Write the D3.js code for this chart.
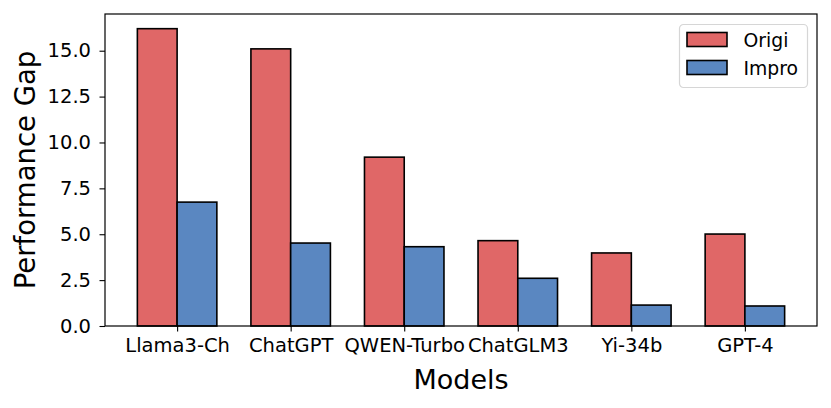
<!DOCTYPE html>
<html>
<head>
<meta charset="utf-8">
<script src="https://cdn.jsdelivr.net/npm/d3@7"></script>
<style>
  body { margin: 0; background: #fff; }
  text { font-family: "DejaVu Sans", sans-serif; fill: #000; }
</style>
</head>
<body>
<div id="chart"></div>
<script>
var svgWidth = 831;
var svgHeight = 408;

var margin = { top: 14, right: 14, bottom: 82, left: 105 };
var width = svgWidth - margin.left - margin.right;
var height = svgHeight - margin.top - margin.bottom;

// data
var models = ["Llama3-Ch", "ChatGPT", "QWEN-Turbo", "ChatGLM3", "Yi-34b", "GPT-4"];
var origi = [16.2, 15.1, 9.2, 4.65, 3.98, 5.01];
var impro = [6.75, 4.52, 4.32, 2.6, 1.14, 1.09];
var yTicks = [0, 2.5, 5, 7.5, 10, 12.5, 15];
var seriesNames = ["Origi", "Impro"];
var seriesColors = ["#e06767", "#5a87c1"];

var barWidth = 0.35;

var svg = d3.select("#chart")
  .append("svg")
  .attr("width", svgWidth)
  .attr("height", svgHeight);

var chartGroup = svg.append("g")
  .attr("transform", `translate(${margin.left}, ${margin.top})`);

// x is a linear index scale, like matplotlib's default bar layout
var xScale = d3.scaleLinear()
  .domain([-0.635, models.length - 1 + 0.635])
  .range([0, width]);

var yScale = d3.scaleLinear()
  .domain([0, 17.0])
  .range([height, 0]);

// bars
[origi, impro].forEach(function(vals, s) {
  chartGroup.append("g")
    .selectAll("rect")
    .data(vals)
    .enter()
    .append("rect")
    .attr("x", (d, i) => xScale(i + (s === 0 ? -barWidth : 0)))
    .attr("y", d => yScale(d))
    .attr("width", xScale(barWidth) - xScale(0))
    .attr("height", d => yScale(0) - yScale(d))
    .attr("fill", seriesColors[s])
    .attr("stroke", "#000")
    .attr("stroke-width", 1.6);
});

// axes
var bottomAxis = d3.axisBottom(xScale)
  .tickValues(d3.range(models.length))
  .tickFormat(i => models[i])
  .tickSize(5.5)
  .tickPadding(7);

var leftAxis = d3.axisLeft(yScale)
  .tickValues(yTicks)
  .tickFormat(d3.format(".1f"))
  .tickSize(5.5)
  .tickPadding(8.5);

var xAxis = chartGroup.append("g")
  .attr("transform", `translate(0, ${height})`)
  .call(bottomAxis);

var yAxis = chartGroup.append("g")
  .call(leftAxis);

[xAxis, yAxis].forEach(function(ax) {
  ax.select(".domain").remove();
  ax.selectAll("line").attr("stroke", "#000").attr("stroke-width", 1.1);
  ax.selectAll("text")
    .style("font-family", "DejaVu Sans")
    .style("font-size", "19.5px")
    .attr("fill", "#000");
});

// frame
chartGroup.append("rect")
  .attr("x", 0)
  .attr("y", 0)
  .attr("width", width)
  .attr("height", height)
  .attr("fill", "none")
  .attr("stroke", "#000")
  .attr("stroke-width", 1.2);

// axis labels
svg.append("text")
  .attr("x", margin.left + width / 2)
  .attr("y", 388.5)
  .attr("text-anchor", "middle")
  .style("font-size", "27px")
  .text("Models");

svg.append("text")
  .attr("transform", `translate(35, ${margin.top + height / 2}) rotate(-90)`)
  .attr("text-anchor", "middle")
  .style("font-size", "27.5px")
  .text("Performance Gap");

// legend
var legend = svg.append("g")
  .attr("transform", "translate(679.5, 24.5)");

legend.append("rect")
  .attr("width", 128)
  .attr("height", 63)
  .attr("rx", 4)
  .attr("fill", "#fff")
  .attr("fill-opacity", 0.8)
  .attr("stroke", "#d6d6d6")
  .attr("stroke-width", 1.2);

seriesNames.forEach(function(name, i) {
  legend.append("rect")
    .attr("x", 7.5)
    .attr("y", 8 + i * 28)
    .attr("width", 40)
    .attr("height", 14)
    .attr("fill", seriesColors[i])
    .attr("stroke", "#000")
    .attr("stroke-width", 1.6);
  legend.append("text")
    .attr("x", 64)
    .attr("y", 22 + i * 28)
    .style("font-size", "18.8px")
    .text(name);
});
</script>
</body>
</html>
